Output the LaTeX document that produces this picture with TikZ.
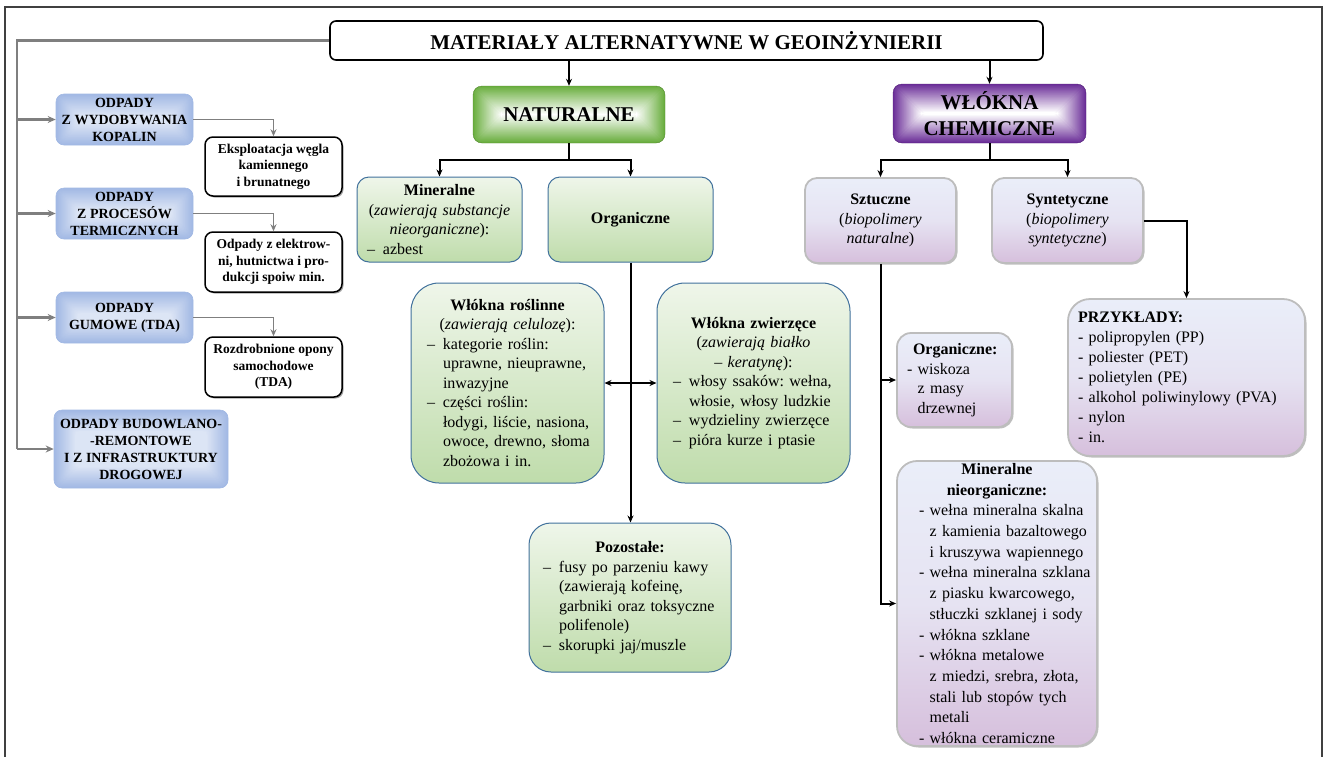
\documentclass[tikz,border=0pt]{standalone}
\usepackage{fontspec}
\setmainfont{Liberation Serif}
\usetikzlibrary{arrows.meta,shadows,calc}
\frenchspacing
\definecolor{framec}{HTML}{404040}
\definecolor{grayc}{HTML}{7F7F7F}
\definecolor{blueout}{HTML}{A2B9E4}
\definecolor{bluein}{HTML}{DCE5F5}
\definecolor{natout}{HTML}{6AAE3E}
\definecolor{chemout}{HTML}{6B2E98}
\definecolor{gborder}{HTML}{41719C}
\definecolor{gtop}{HTML}{EFF6EA}
\definecolor{gbot}{HTML}{BFDCAB}
\definecolor{pborder}{HTML}{BDBDBD}
\definecolor{ptop}{HTML}{EAEEF9}
\definecolor{pmid}{HTML}{E6E3F2}
\definecolor{pbot}{HTML}{D6BFDC}
\newcommand{\bodyfont}{\fontsize{16}{19.5}\selectfont\frenchspacing}
\newcommand{\dd}[1]{\mbox{\makebox[16pt][l]{–}#1}}
\newcommand{\ii}[1]{\mbox{\hspace*{16pt}#1}}
\newcommand{\hl}[1]{\mbox{- #1}}
\newcommand{\hc}[1]{\mbox{\phantom{- }#1}}
\tikzset{
  glow/.style n args={3}{fill=#1, path picture={%
    \foreach \k in {1,...,28}{%
      \pgfmathtruncatemacro{\pc}{\k*100/28}%
      \fill[fill=#2!\pc!#1, rounded corners=4pt]
        ([shift={(\k*#3,-\k*#3)}]path picture bounding box.north west) rectangle
        ([shift={(-\k*#3,\k*#3)}]path picture bounding box.south east);
    }}},
  titlebox/.style={draw, line width=1.6pt, rounded corners=6pt, fill=white,
    minimum width=713pt, minimum height=39pt, inner sep=0pt,
    font=\fontsize{21}{24}\selectfont\bfseries},
  bluebox/.style={draw=blueout, line width=0.6pt, rounded corners=8pt, glow={blueout}{bluein}{0.75pt},
    align=center, inner sep=2pt, font=\fontsize{14}{17}\selectfont\bfseries},
  wbox/.style={draw, line width=1.5pt, fill=white, rounded corners=8pt, align=center,
    inner sep=2pt, minimum width=137pt, font=\fontsize{13.5}{16.5}\selectfont\bfseries,
    drop shadow={shadow xshift=1.5pt, shadow yshift=-1.5pt, opacity=.35, fill=black}},
  natbox/.style={draw=natout!80!black, line width=0.4pt, rounded corners=9pt, glow={natout}{white}{1pt},
    align=center, inner sep=2pt, font=\fontsize{21}{26}\selectfont\bfseries},
  chembox/.style={draw=chemout!80!black, line width=0.4pt, rounded corners=9pt, glow={chemout}{white}{1pt},
    align=center, inner sep=2pt, font=\fontsize{21}{26}\selectfont\bfseries},
  gbox/.style={draw=gborder, line width=1pt, top color=gtop, bottom color=gbot,
    rounded corners=#1, inner ysep=2pt, font=\bodyfont},
  pbox/.style={draw=pborder, line width=1.8pt, top color=ptop, bottom color=pbot, middle color=pmid,
    rounded corners=#1, inner ysep=2pt, font=\bodyfont,
    drop shadow={shadow xshift=1.5pt, shadow yshift=-1.5pt, opacity=.25, fill=black}},
  gline/.style={draw=grayc, line width=2.6pt},
  garrow/.style={draw=grayc, line width=2.4pt, -{Stealth[length=8pt,width=7pt]}},
  gsmall/.style={draw=grayc, line width=1.7pt, -{Stealth[length=7pt,width=6pt]}},
  bline/.style={draw=black, line width=2pt},
  barrow/.style={draw=black, line width=2pt, -{Stealth[length=7pt,width=6pt]}},
}
\begin{document}
\begin{tikzpicture}[x=1pt,y=-1pt]
\useasboundingbox (0,0) rectangle (1326,756);
% frame
\draw[draw=framec, line width=2.4pt] (5,760) -- (5,7) -- (1322,7) -- (1322,760);

% title
\node[titlebox] (title) at (686.5,40.5) {MATERIAŁY ALTERNATYWNE W GEOINŻYNIERII};

% left column
\node[bluebox, minimum width=137pt, minimum height=51pt] (b1) at (124.5,119.5) {ODPADY\\Z WYDOBYWANIA\\KOPALIN};
\node[bluebox, minimum width=137pt, minimum height=51pt] (b2) at (124.5,213.5) {ODPADY\\Z PROCESÓW\\TERMICZNYCH};
\node[bluebox, minimum width=137pt, minimum height=51pt] (b3) at (124.5,317.5) {ODPADY\\GUMOWE (TDA)};
\node[bluebox, minimum width=174pt, minimum height=78pt] (b4) at (141,449) {ODPADY BUDOWLANO-\\-REMONTOWE\\I Z INFRASTRUKTURY\\DROGOWEJ};

\node[wbox, minimum height=59pt] (w1) at (273.5,166.5) {Eksploatacja węgla\\kamiennego\\i brunatnego};
\node[wbox, minimum height=60pt] (w2) at (273.5,262) {Odpady z elektrow-\\ni, hutnictwa i pro-\\dukcji spoiw min.};
\node[wbox, minimum height=60pt] (w3) at (273.5,367) {Rozdrobnione opony\\samochodowe\\(TDA)};

% naturalne
\node[natbox, minimum width=192pt, minimum height=57pt] (nat) at (569,114.5) {NATURALNE};
\node[gbox=12pt, minimum width=165pt, minimum height=85pt, text width=145pt, inner xsep=10pt] (min) at (439.5,219.5)
  {\centering\textbf{Mineralne}\\(\textit{zawierają substancje}\\\textit{nieorganiczne}):\par\raggedright\dd{azbest}};
\node[gbox=12pt, minimum width=165pt, minimum height=85pt, align=center] (org) at (630.5,219.5) {\textbf{Organiczne}};
\node[gbox=28pt, minimum width=193pt, minimum height=200pt, text width=161pt, inner xsep=16pt] (ros) at (507.5,383)
  {\centering\textbf{Włókna roślinne}\\(\textit{zawierają celulozę}):\par\raggedright
   \dd{kategorie roślin:}\\\ii{uprawne, nieuprawne,}\\\ii{inwazyjne}\\\dd{części roślin:}\\\ii{łodygi, liście, nasiona,}\\\ii{owoce, drewno, słoma}\\\ii{zbożowa i in.}};
\node[gbox=28pt, minimum width=193pt, minimum height=200pt, text width=161pt, inner xsep=16pt] (zwi) at (753.5,383)
  {\centering\textbf{Włókna zwierzęce}\\(\textit{zawierają białko}\\\textit{– keratynę}):\par\raggedright
   \dd{włosy ssaków: wełna,}\\\ii{włosie, włosy ludzkie}\\\dd{wydzieliny zwierzęce}\\\dd{pióra kurze i ptasie}};
\node[gbox=22pt, minimum width=202pt, minimum height=149pt, text width=174pt, inner xsep=14pt] (poz) at (630,597.5)
  {\centering\textbf{Pozostałe:}\par\raggedright
   \dd{fusy po parzeniu kawy}\\\ii{(zawierają kofeinę,}\\\ii{garbniki oraz toksyczne}\\\ii{polifenole)}\\\dd{skorupki jaj/muszle}};

% chemiczne
\node[chembox, minimum width=193pt, minimum height=59pt] (chem) at (989.5,113.5) {WŁÓKNA\\CHEMICZNE};
\node[pbox=12pt, minimum width=151pt, minimum height=85pt, align=center] (szt) at (880.5,220.5)
  {\textbf{Sztuczne}\\(\textit{biopolimery}\\\textit{naturalne})};
\node[pbox=12pt, minimum width=151pt, minimum height=85pt, align=center] (syn) at (1067.5,220.5)
  {\textbf{Syntetyczne}\\(\textit{biopolimery}\\\textit{syntetyczne})};
\node[pbox=22pt, minimum width=237pt, minimum height=157pt, text width=217pt, inner xsep=10pt, font=\fontsize{16}{20}\selectfont] (prz) at (1186.5,377.5)
  {\raggedright\textbf{PRZYKŁADY:}\\\hl{polipropylen (PP)}\\\hl{poliester (PET)}\\\hl{polietylen (PE)}\\\hl{alkohol poliwinylowy (PVA)}\\\hl{nylon}\\\hl{in.}};
\node[pbox=14pt, minimum width=115pt, minimum height=94pt, text width=95pt, inner xsep=10pt] (orgc) at (954.5,380)
  {\raggedright\hspace*{6pt}\textbf{Organiczne:}\\\hl{wiskoza}\\\hc{z masy}\\\hc{drzewnej}};
\node[pbox=20pt, minimum width=200pt, minimum height=285pt, text width=156pt, inner xsep=22pt, font=\fontsize{16}{20.7}\selectfont] (minc) at (997,603.5)
  {\centering\textbf{Mineralne}\\\textbf{nieorganiczne:}\par\raggedright
   \hl{wełna mineralna skalna}\\\hc{z kamienia bazaltowego}\\\hc{i kruszywa wapiennego}\\
   \hl{wełna mineralna szklana}\\\hc{z piasku kwarcowego,}\\\hc{stłuczki szklanej i sody}\\
   \hl{włókna szklane}\\\hl{włókna metalowe}\\\hc{z miedzi, srebra, złota,}\\\hc{stali lub stopów tych}\\\hc{metali}\\
   \hl{włókna ceramiczne}};

% left connectors
\coordinate (L) at (17,40.5);
\coordinate (Lb) at (17,449);
\draw[gline] (title.west) -- (L) -- (Lb);
\foreach \b in {b1,b2,b3,b4}{\draw[garrow] (L |- \b.west) -- (\b.west);}
\draw[gsmall] (b1.east) -| (w1.north);
\draw[gsmall] (b2.east) -| (w2.north);
\draw[gsmall] (b3.east) -| (w3.north);

% main connectors
\draw[barrow] (title.south -| nat.north) -- (nat.north);
\draw[barrow] (title.south -| chem.north) -- (chem.north);
\coordinate (nj) at ($(nat.south)+(0,16.5)$);
\draw[bline] (nat.south) -- (nj);
\draw[barrow] (nj) -| (min.north);
\draw[barrow] (nj) -| (org.north);
\draw[barrow] (org.south) -- (org.south |- poz.north);
\draw[barrow] (org.south |- ros.east) -- (ros.east);
\draw[barrow] (org.south |- zwi.west) -- (zwi.west);
\coordinate (cj) at ($(chem.south)+(0,16.5)$);
\draw[bline] (chem.south) -- (cj);
\draw[barrow] (cj) -| (szt.north);
\draw[barrow] (cj) -| (syn.north);
\draw[barrow] (syn.east) -| (prz.north);
\draw[barrow] (szt.south) |- (minc.west);
\draw[barrow] (szt.south |- orgc.west) -- (orgc.west);
\end{tikzpicture}
\end{document}
